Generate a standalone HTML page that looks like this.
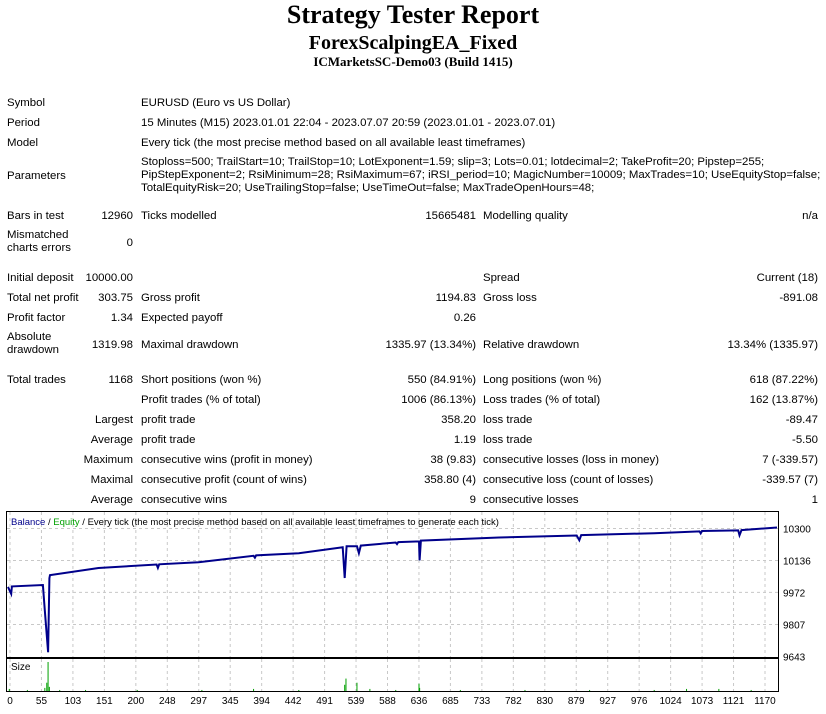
<!DOCTYPE html>
<html><head><meta charset="utf-8"><style>
body{margin:0;width:826px;height:714px;background:#fff;position:relative;overflow:hidden;font-family:"Liberation Sans",sans-serif;font-size:11.4px;color:#000}
.t{position:absolute;line-height:14px;white-space:nowrap}
.r{text-align:right}
.h{position:absolute;left:0;width:826px;text-align:center;font-family:"Liberation Serif",serif;font-weight:bold;white-space:nowrap}
</style></head><body>
<div class="h" style="top:0;font-size:26px;line-height:30px">Strategy Tester Report</div>
<div class="h" style="top:31px;font-size:20px;line-height:24px">ForexScalpingEA_Fixed</div>
<div class="h" style="top:54px;font-size:13px;line-height:16px">ICMarketsSC-Demo03 (Build 1415)</div>

<div class="t" style="left:7px;top:96px">Symbol</div>
<div class="t" style="left:141px;top:96px">EURUSD (Euro vs US Dollar)</div>
<div class="t" style="left:7px;top:116px">Period</div>
<div class="t" style="left:141px;top:116px">15 Minutes (M15) 2023.01.01 22:04 - 2023.07.07 20:59 (2023.01.01 - 2023.07.01)</div>
<div class="t" style="left:7px;top:136px">Model</div>
<div class="t" style="left:141px;top:136px">Every tick (the most precise method based on all available least timeframes)</div>
<div class="t" style="left:7px;top:169px">Parameters</div>
<div class="t" style="left:141px;top:156px;line-height:13px">Stoploss=500; TrailStart=10; TrailStop=10; LotExponent=1.59; slip=3; Lots=0.01; lotdecimal=2; TakeProfit=20; Pipstep=255;<br>PipStepExponent=2; RsiMinimum=28; RsiMaximum=67; iRSI_period=10; MagicNumber=10009; MaxTrades=10; UseEquityStop=false;<br>TotalEquityRisk=20; UseTrailingStop=false; UseTimeOut=false; MaxTradeOpenHours=48;</div>

<div class="t" style="left:7px;top:209px">Bars in test</div>
<div class="t r" style="left:60px;width:73px;top:209px">12960</div>
<div class="t" style="left:141px;top:209px">Ticks modelled</div>
<div class="t r" style="left:376px;width:100px;top:209px">15665481</div>
<div class="t" style="left:483px;top:209px">Modelling quality</div>
<div class="t r" style="left:718px;width:100px;top:209px">n/a</div>
<div class="t" style="left:7px;top:229px;line-height:13px">Mismatched<br>charts errors</div>
<div class="t r" style="left:60px;width:73px;top:236px">0</div>

<div class="t" style="left:7px;top:271px">Initial deposit</div>
<div class="t r" style="left:60px;width:73px;top:271px">10000.00</div>
<div class="t" style="left:483px;top:271px">Spread</div>
<div class="t r" style="left:718px;width:100px;top:271px">Current (18)</div>

<div class="t" style="left:7px;top:291px">Total net profit</div>
<div class="t r" style="left:60px;width:73px;top:291px">303.75</div>
<div class="t" style="left:141px;top:291px">Gross profit</div>
<div class="t r" style="left:376px;width:100px;top:291px">1194.83</div>
<div class="t" style="left:483px;top:291px">Gross loss</div>
<div class="t r" style="left:718px;width:100px;top:291px">-891.08</div>

<div class="t" style="left:7px;top:311px">Profit factor</div>
<div class="t r" style="left:60px;width:73px;top:311px">1.34</div>
<div class="t" style="left:141px;top:311px">Expected payoff</div>
<div class="t r" style="left:376px;width:100px;top:311px">0.26</div>

<div class="t" style="left:7px;top:331px;line-height:13px">Absolute<br>drawdown</div>
<div class="t r" style="left:60px;width:73px;top:338px">1319.98</div>
<div class="t" style="left:141px;top:338px">Maximal drawdown</div>
<div class="t r" style="left:336px;width:140px;top:338px">1335.97 (13.34%)</div>
<div class="t" style="left:483px;top:338px">Relative drawdown</div>
<div class="t r" style="left:678px;width:140px;top:338px">13.34% (1335.97)</div>

<div class="t" style="left:7px;top:373px">Total trades</div>
<div class="t r" style="left:60px;width:73px;top:373px">1168</div>
<div class="t" style="left:141px;top:373px">Short positions (won %)</div>
<div class="t r" style="left:336px;width:140px;top:373px">550 (84.91%)</div>
<div class="t" style="left:483px;top:373px">Long positions (won %)</div>
<div class="t r" style="left:678px;width:140px;top:373px">618 (87.22%)</div>

<div class="t" style="left:141px;top:393px">Profit trades (% of total)</div>
<div class="t r" style="left:336px;width:140px;top:393px">1006 (86.13%)</div>
<div class="t" style="left:483px;top:393px">Loss trades (% of total)</div>
<div class="t r" style="left:678px;width:140px;top:393px">162 (13.87%)</div>

<div class="t r" style="left:40px;width:93px;top:413px">Largest</div>
<div class="t" style="left:141px;top:413px">profit trade</div>
<div class="t r" style="left:336px;width:140px;top:413px">358.20</div>
<div class="t" style="left:483px;top:413px">loss trade</div>
<div class="t r" style="left:678px;width:140px;top:413px">-89.47</div>

<div class="t r" style="left:40px;width:93px;top:433px">Average</div>
<div class="t" style="left:141px;top:433px">profit trade</div>
<div class="t r" style="left:336px;width:140px;top:433px">1.19</div>
<div class="t" style="left:483px;top:433px">loss trade</div>
<div class="t r" style="left:678px;width:140px;top:433px">-5.50</div>

<div class="t r" style="left:40px;width:93px;top:453px">Maximum</div>
<div class="t" style="left:141px;top:453px">consecutive wins (profit in money)</div>
<div class="t r" style="left:336px;width:140px;top:453px">38 (9.83)</div>
<div class="t" style="left:483px;top:453px">consecutive losses (loss in money)</div>
<div class="t r" style="left:678px;width:140px;top:453px">7 (-339.57)</div>

<div class="t r" style="left:40px;width:93px;top:473px">Maximal</div>
<div class="t" style="left:141px;top:473px">consecutive profit (count of wins)</div>
<div class="t r" style="left:336px;width:140px;top:473px">358.80 (4)</div>
<div class="t" style="left:483px;top:473px">consecutive loss (count of losses)</div>
<div class="t r" style="left:678px;width:140px;top:473px">-339.57 (7)</div>

<div class="t r" style="left:40px;width:93px;top:493px">Average</div>
<div class="t" style="left:141px;top:493px">consecutive wins</div>
<div class="t r" style="left:336px;width:140px;top:493px">9</div>
<div class="t" style="left:483px;top:493px">consecutive losses</div>
<div class="t r" style="left:678px;width:140px;top:493px">1</div>

<svg id="chart" width="826" height="204" style="position:absolute;left:0;top:510px" xmlns="http://www.w3.org/2000/svg" font-family="Liberation Sans, sans-serif" font-size="10"></svg>

<script>
const tradeIdx = [0,5,6,54,57,62,64,65,140,230,232,234,295,380,382,384,450,518,521,524,540,543,546,600,602,604,636,637,639,760,880,884,887,1000,1070,1072,1074,1130,1132,1135,1190];
const balance  = [10000,9965,10003,10010,9880,9665,10045,10061,10097,10115,10098,10116,10127,10160,10150,10162,10173,10204,10046,10209,10209,10173,10212,10228,10220,10230,10234,10137,10238,10254,10264,10240,10266,10276,10285,10275,10287,10290,10265,10292,10305];
const sizeIdx  = [2,30,57,60,62,64,80,120,200,300,380,450,521,523,540,560,600,636,637,700,800,900,1000,1050,1100,1150];
const sizeVal  = [2,1,3,8,28,4,1,1,1,1,2,1,6,12,8,2,1,7,3,1,1,1,1,2,2,1];
const yTicks   = [10300,10136,9972,9807,9643];
const xLabels  = ['0','55','103','151','200','248','297','345','394','442','491','539','588','636','685','733','782','830','879','927','976','1024','1073','1121','1170'];

const svg = document.getElementById('chart');
const NS = 'http://www.w3.org/2000/svg';
const L = 7, R = 778, T = 2, B = 147, ST = 149, SB = 181;
const xMax = 1190;
const yMin = 9643, yMax = 10300;
const xs = i => L + 1 + (i / xMax) * (R - L - 2);
const ys = v => B - 0.5 - (v - yMin) / (yMax - yMin) * (B - T - 17);
const sMax = 28;
const ss = v => SB - (v / sMax) * (SB - ST - 3);
function mk(tag, attrs){const e=document.createElementNS(NS,tag);for(const k in attrs)e.setAttribute(k,attrs[k]);svg.appendChild(e);return e;}

let f1 = mk('rect',{x:L-0.5,y:T-0.5,width:R-L+1,height:B-T+1,fill:'none',stroke:'#000'});


let f2 = mk('rect',{x:L-0.5,y:ST-0.5,width:R-L+1,height:SB-ST+1,fill:'none',stroke:'#000'});



yTicks.forEach(v=>{
  const y = ys(v);
  if (v !== yMin) {
    const g = mk('line',{x1:L,x2:R,y1:y,y2:y,stroke:'#c8c8c8','stroke-dasharray':'3,3'});
    
    
  }
  const t = mk('text',{x:R+5,y:y+4});
  t.textContent = v;
  
  
});
xLabels.forEach((lab,k)=>{
  const x = L + 3 + k * ((R - L - 16) / (xLabels.length - 1));
  const g = mk('line',{x1:x,x2:x,y1:T,y2:B,stroke:'#c8c8c8','stroke-dasharray':'3,3'});
  
  
  const g2 = mk('line',{x1:x,x2:x,y1:ST,y2:SB,stroke:'#c8c8c8','stroke-dasharray':'3,3'});
  
  
  const t = mk('text',{x:x,y:194,'text-anchor':'middle'});
  t.textContent = lab;
  
  
});

sizeIdx.forEach((i,k)=>{
  const x = xs(i);
  const b = mk('line',{x1:x,x2:x,y1:SB,y2:ss(sizeVal[k]),stroke:'#00a000','stroke-width':1});
  
  
});
const sl = mk('text',{x:L+4,y:ST+11});
sl.textContent = 'Size';



const pts = tradeIdx.map((i,k)=>xs(i).toFixed(1)+','+ys(balance[k]).toFixed(1)).join(' ');
const eq = mk('polyline',{points:pts,fill:'none',stroke:'#00a000','stroke-width':1});


const bl = mk('polyline',{points:pts,fill:'none',stroke:'#00008b','stroke-width':2});



const lg = mk('text',{x:L+4,y:T+13,'font-size':'9.5'});


lg.innerHTML = '<tspan fill="#00008b">Balance</tspan><tspan> / </tspan><tspan fill="#00a000">Equity</tspan><tspan> / Every tick (the most precise method based on all available least timeframes to generate each tick)</tspan>';
</script>
</body></html>
